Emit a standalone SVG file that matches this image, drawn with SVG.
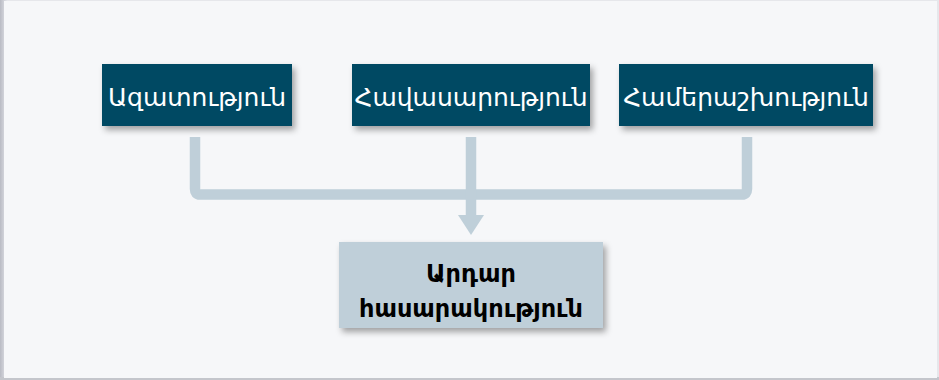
<svg xmlns="http://www.w3.org/2000/svg" width="939" height="380" viewBox="0 0 939 380">
  <defs>
    <linearGradient id="edge" x1="0" y1="0" x2="1" y2="0">
      <stop offset="0" stop-color="#b9bbc4"/>
      <stop offset="1" stop-color="#e4e5ea"/>
    </linearGradient>
    <filter id="shadow" x="-10%" y="-20%" width="125%" height="150%">
      <feDropShadow dx="3" dy="4" stdDeviation="3" flood-color="#000" flood-opacity="0.35"/>
    </filter>
    <style>
      .top { fill: #034a63; filter: url(#shadow); }
      .toptext { fill: #ffffff; font-family: "DejaVu Sans", sans-serif; font-size: 25px; text-anchor: middle; }
      .bottom { fill: #bfcfd9; filter: url(#shadow); }
      .bottomtext { fill: #000000; font-family: "DejaVu Sans", sans-serif; font-size: 24px; font-weight: bold; text-anchor: middle; }
      .conn { fill: none; stroke: #bfcfd9; stroke-width: 10.5; }
      .head { fill: #bfcfd9; }
    </style>
  </defs>

  <rect x="0" y="0" width="939" height="380" fill="#e6e7eb"/>
  <rect x="0" y="0" width="7" height="380" fill="url(#edge)"/>
  <rect x="0" y="377" width="939" height="3" fill="#c4c6cc"/>
  <rect x="4" y="1" width="933" height="377" fill="#f6f7f9"/>

  <g id="connectors">
    <path class="conn" d="M195,137 V189 Q195,194.5 200,194.5 H742 Q747,194.5 747,189 V137"/>
    <path class="conn" d="M471,137 V216"/>
    <polygon class="head" points="458,215 484,215 471,235"/>
  </g>

  <g id="node-azatutyun">
    <rect class="top" x="102" y="64" width="190" height="62"/>
    <text class="toptext" x="197" y="106">Ազատություն</text>
  </g>
  <g id="node-havasarutyun">
    <rect class="top" x="352" y="64" width="238" height="62"/>
    <text class="toptext" x="471" y="106">Հավասարություն</text>
  </g>
  <g id="node-hamerashkhutyun">
    <rect class="top" x="619" y="64" width="254" height="62"/>
    <text class="toptext" x="746" y="106">Համերաշխություն</text>
  </g>
  <g id="node-ardar">
    <rect class="bottom" x="339" y="242" width="264" height="86"/>
    <text class="bottomtext" x="471" y="282">Արդար</text>
    <text class="bottomtext" x="471" y="317">հասարակություն</text>
  </g>
</svg>
